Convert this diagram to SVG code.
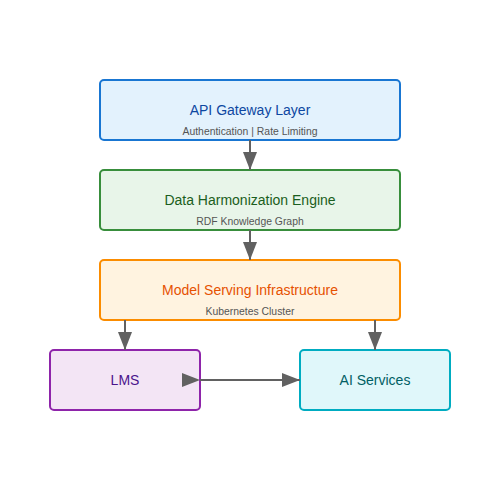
<svg xmlns="http://www.w3.org/2000/svg" width="500" height="500" viewBox="0 0 500 500">
<style>
.box{stroke-width:2}
.t{font-family:"Liberation Sans",Arial,sans-serif;font-size:14px;text-anchor:middle}
.s{font-family:"Liberation Sans",Arial,sans-serif;font-size:10.4px;fill:#555;text-anchor:middle}
.c{stroke:#616161;stroke-width:2;fill:none}
</style>
<defs>
<marker id="ah" markerUnits="userSpaceOnUse" markerWidth="18" markerHeight="14" refX="18" refY="7" orient="auto">
<path d="M0,0 L18,7 L0,14 Z" fill="#616161"/>
</marker>
</defs>
<rect width="500" height="500" fill="#fff"/>
<g id="api">
<rect class="box" x="100" y="80" width="300" height="60" rx="4" fill="#e3f2fd" stroke="#1976d2"/>
<text class="t" x="250" y="115" fill="#0d47a1">API Gateway Layer</text>
<text class="s" x="250" y="135">Authentication | Rate Limiting</text>
</g>
<g id="harmonization">
<rect class="box" x="100" y="170" width="300" height="60" rx="4" fill="#e8f5e9" stroke="#388e3c"/>
<text class="t" x="250" y="205" fill="#1b5e20">Data Harmonization Engine</text>
<text class="s" x="250" y="225">RDF Knowledge Graph</text>
</g>
<g id="serving">
<rect class="box" x="100" y="260" width="300" height="60" rx="4" fill="#fff3e0" stroke="#fb8c00"/>
<text class="t" x="250" y="295" fill="#e65100">Model Serving Infrastructure</text>
<text class="s" x="250" y="315">Kubernetes Cluster</text>
</g>
<g id="lms">
<rect class="box" x="50" y="350" width="150" height="60" rx="4" fill="#f3e5f5" stroke="#8e24aa"/>
<text class="t" x="125" y="385" fill="#4a148c">LMS</text>
</g>
<g id="ai">
<rect class="box" x="300" y="350" width="150" height="60" rx="4" fill="#e0f7fa" stroke="#00acc1"/>
<text class="t" x="375" y="385" fill="#006064">AI Services</text>
</g>
<g id="connectors">
<line class="c" x1="250" y1="140" x2="250" y2="170" marker-end="url(#ah)"/>
<line class="c" x1="250" y1="230" x2="250" y2="260" marker-end="url(#ah)"/>
<line class="c" x1="125" y1="320" x2="125" y2="350" marker-end="url(#ah)"/>
<line class="c" x1="375" y1="320" x2="375" y2="350" marker-end="url(#ah)"/>
<line class="c" x1="200" y1="380" x2="300" y2="380" marker-start="url(#ah)" marker-end="url(#ah)"/>
</g>
</svg>
